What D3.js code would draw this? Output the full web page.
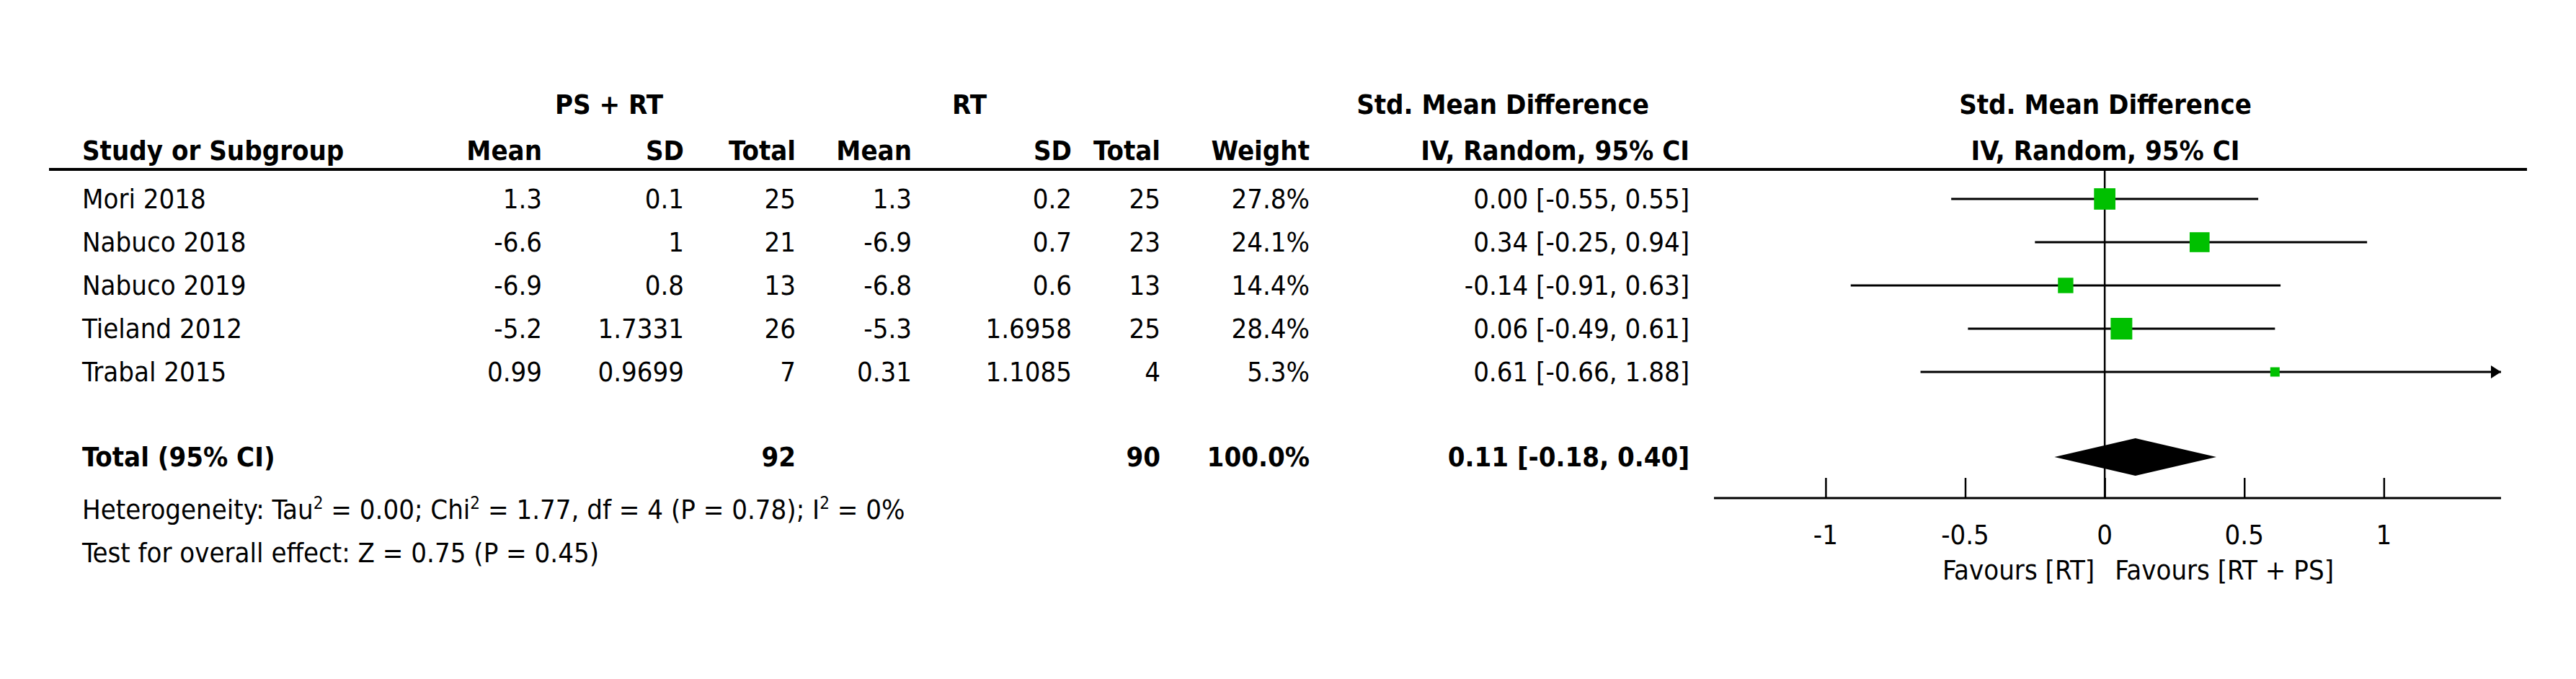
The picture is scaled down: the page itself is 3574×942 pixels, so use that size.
<!DOCTYPE html>
<html><head><meta charset="utf-8">
<script src="https://cdn.jsdelivr.net/npm/d3@7"></script>
<style>body{margin:0;background:#fff}text{font-family:"DejaVu Sans Condensed","DejaVu Sans",sans-serif;font-size:38px;fill:#000}</style>
</head><body><svg width="3574" height="942"></svg>
<script>
// data
const studies = ["Mori 2018", "Nabuco 2018", "Nabuco 2019", "Tieland 2012", "Trabal 2015"];
const psMean = ["1.3", "-6.6", "-6.9", "-5.2", "0.99"];
const psSD = ["0.1", "1", "0.8", "1.7331", "0.9699"];
const psTotal = [25, 21, 13, 26, 7];
const rtMean = ["1.3", "-6.9", "-6.8", "-5.3", "0.31"];
const rtSD = ["0.2", "0.7", "0.6", "1.6958", "1.1085"];
const rtTotal = [25, 23, 13, 25, 4];
const weight = [27.8, 24.1, 14.4, 28.4, 5.3];
const est = [0.00, 0.34, -0.14, 0.06, 0.61];
const lo = [-0.55, -0.25, -0.91, -0.49, -0.66];
const hi = [0.55, 0.94, 0.63, 0.61, 1.88];
const total = {est: 0.11, lo: -0.18, hi: 0.40, ps: 92, rt: 90};
const ticks = [-1, -0.5, 0, 0.5, 1];
const tickLabels = ["-1", "-0.5", "0", "0.5", "1"];

const svg = d3.select("svg");
const rowY = d3.scaleBand().domain(studies).range([246, 546]);
const yOf = s => rowY(s) + rowY.bandwidth() / 2;
const x = d3.scaleLinear().domain([-1.4, 1.42]).range([2378, 3470]);
const xmax = 1.42;
const base = 13;

// column headers
const hdr = [["PS + RT", 845, 158, "middle"], ["RT", 1345, 158, "middle"],
  ["Std. Mean Difference", 2085, 158, "middle"], ["Std. Mean Difference", 2921, 158, "middle"],
  ["Study or Subgroup", 114, 222, "start"], ["Mean", 752, 222, "end"], ["SD", 949, 222, "end"],
  ["Total", 1104, 222, "end"], ["Mean", 1265, 222, "end"], ["SD", 1487, 222, "end"],
  ["Total", 1610, 222, "end"], ["Weight", 1817, 222, "end"], ["IV, Random, 95% CI", 2344, 222, "end"],
  ["IV, Random, 95% CI", 2921, 222, "middle"]];
svg.selectAll("text.h").data(hdr).enter().append("text").attr("class", "h")
  .attr("x", d => d[1]).attr("y", d => d[2]).attr("text-anchor", d => d[3])
  .attr("font-weight", "bold").text(d => d[0]);
svg.append("line").attr("x1", 68).attr("x2", 3506).attr("y1", 235).attr("y2", 235)
  .attr("stroke", "#000").attr("stroke-width", 4);

// table rows
const f2 = v => d3.format(".2f")(v).replace("\u2212", "-");
const cols = [[d => d, 114, "start"], [(d, i) => psMean[i], 752, "end"], [(d, i) => psSD[i], 949, "end"],
  [(d, i) => psTotal[i], 1104, "end"], [(d, i) => rtMean[i], 1265, "end"], [(d, i) => rtSD[i], 1487, "end"],
  [(d, i) => rtTotal[i], 1610, "end"], [(d, i) => weight[i].toFixed(1) + "%", 1817, "end"],
  [(d, i) => f2(est[i]) + " [" + f2(lo[i]) + ", " + f2(hi[i]) + "]", 2344, "end"]];
cols.forEach(c => {
  svg.selectAll(null).data(studies).enter().append("text")
    .attr("x", c[1]).attr("y", d => yOf(d) + base).attr("text-anchor", c[2]).text(c[0]);
});

// total row
const ty = 634;
[["Total (95% CI)", 114, "start"], [total.ps, 1104, "end"], [total.rt, 1610, "end"],
 [d3.sum(weight).toFixed(1) + "%", 1817, "end"],
 [f2(total.est) + " [" + f2(total.lo) + ", " + f2(total.hi) + "]", 2344, "end"]].forEach(t => {
  svg.append("text").attr("x", t[1]).attr("y", ty + base).attr("text-anchor", t[2])
    .attr("font-weight", "bold").text(t[0]);
});
const het = svg.append("text").attr("x", 114).attr("y", 720);
const sup = () => { het.append("tspan").attr("dy", -14).attr("font-size", 24).text("2"); };
het.append("tspan").text("Heterogeneity: Tau"); sup();
het.append("tspan").attr("dy", 14).text(" = 0.00; Chi"); sup();
het.append("tspan").attr("dy", 14).text(" = 1.77, df = 4 (P = 0.78); I"); sup();
het.append("tspan").attr("dy", 14).text(" = 0%");
svg.append("text").attr("x", 114).attr("y", 780).text("Test for overall effect: Z = 0.75 (P = 0.45)");

// forest plot
const axisY = 691;
svg.append("line").attr("x1", x(0)).attr("x2", x(0)).attr("y1", 235).attr("y2", axisY)
  .attr("stroke", "#000").attr("stroke-width", 2.5);
svg.selectAll("line.ci").data(studies).enter().append("line")
  .attr("x1", (d, i) => x(lo[i])).attr("x2", (d, i) => x(Math.min(hi[i], xmax)))
  .attr("y1", yOf).attr("y2", yOf).attr("stroke", "#000").attr("stroke-width", 3);
studies.forEach((s, i) => {
  if (hi[i] > xmax) {
    const ax = x(xmax), ay = yOf(s);
    svg.append("path").attr("d", `M${ax},${ay}L${ax - 14},${ay - 9}L${ax - 14},${ay + 9}Z`).attr("fill", "#000");
  }
});
const side = d3.scaleSqrt().domain([0, 28.4]).range([0, 30]);
svg.selectAll("rect.sq").data(studies).enter().append("rect")
  .attr("x", (d, i) => x(est[i]) - side(weight[i]) / 2)
  .attr("y", (d, i) => yOf(d) - side(weight[i]) / 2)
  .attr("width", (d, i) => side(weight[i])).attr("height", (d, i) => side(weight[i]))
  .attr("fill", "#00c000");
svg.append("path").attr("d", `M${x(total.lo)},${ty}L${x(total.est)},${ty - 26}L${x(total.hi)},${ty}L${x(total.est)},${ty + 26}Z`)
  .attr("fill", "#000");

const ax = svg.append("g").attr("transform", `translate(0,${axisY})`)
  .call(d3.axisTop(x).tickValues(ticks).tickSize(28).tickFormat(() => ""));
ax.select(".domain").remove();
ax.selectAll("line").attr("stroke-width", 2.5);
svg.append("line").attr("x1", x.range()[0]).attr("x2", x.range()[1]).attr("y1", axisY).attr("y2", axisY)
  .attr("stroke", "#000").attr("stroke-width", 3);
svg.selectAll("text.tk").data(ticks).enter().append("text").attr("class", "tk")
  .attr("x", d => x(d)).attr("y", 755).attr("text-anchor", "middle").text((d, i) => tickLabels[i]);
svg.append("text").attr("x", x(0) - 14).attr("y", 804).attr("text-anchor", "end").text("Favours [RT]");
svg.append("text").attr("x", x(0) + 14).attr("y", 804).attr("text-anchor", "start").text("Favours [RT + PS]");
</script></body></html>
